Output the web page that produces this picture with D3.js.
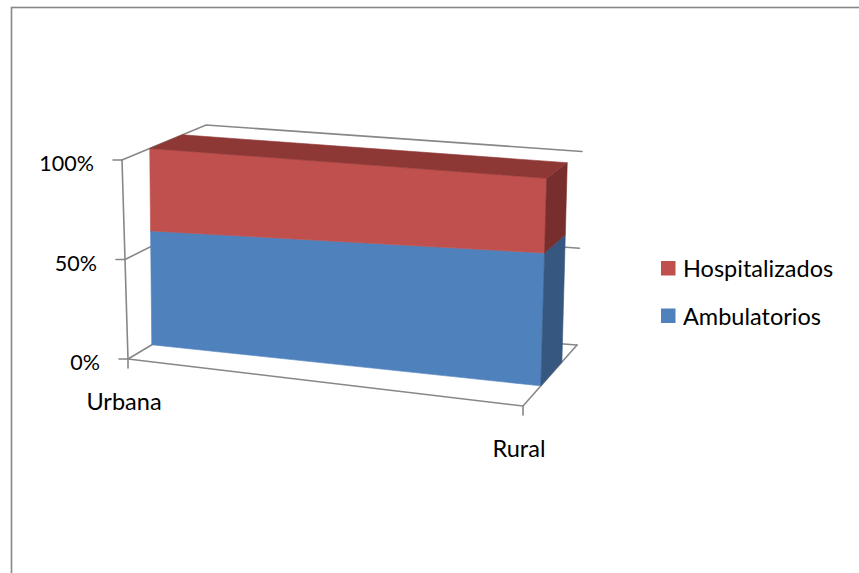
<!DOCTYPE html>
<html>
<head>
<meta charset="utf-8">
<script src="https://cdn.jsdelivr.net/npm/d3@7"></script>
<style>
  html, body { margin: 0; padding: 0; background: #fff; }
  svg { display: block; }
  text { font-family: Lato, "Noto Sans", sans-serif; fill: #000; }
</style>
</head>
<body>
<svg id="chart" width="859" height="573"></svg>
<script>
// Categories and stacked series (percent of each category)
const categories = ["Urbana", "Rural"];
const seriesNames = ["Ambulatorios", "Hospitalizados"];
const ambulatorios = [58, 64];
const hospitalizados = [42, 36];
const valueTicks = [0, 50, 100];
const tickLabels = ["0%", "50%", "100%"];

const colors = {
  Ambulatorios:   { front: "#4F81BD", side: "#36577F", top: "#3E6797" },
  Hospitalizados: { front: "#C0504D", side: "#772E2C", top: "#8E3836" }
};
const gridColor = "#878787";
const labelSize = 23.5;
const tickSize = 21.5;

const svg = d3.select("#chart");

// Outer chart frame
svg.append("rect")
  .attr("x", 11.5).attr("y", 7.5)
  .attr("width", 900).attr("height", 700)
  .attr("fill", "none").attr("stroke", gridColor).attr("stroke-width", 1.6);

// Scales: category position across the floor, stacked value up the walls
const xScale = d3.scalePoint().domain(categories).range([0, 1]);
const yScale = d3.scaleLinear().domain([0, 100]).range([0, 1]);

// Corners of the 3D plot box in screen space (front/back, left/right, bottom/top)
const box = {
  FLB: [128, 359], FLT: [122, 160], BLB: [200, 316], BLT: [206, 125],
  FRB: [523, 406], FRT: [529.3, 191.5], BRB: [577, 345], BRT: [582, 151.5]
};
// Trilinear projection: u across categories, v up the value axis, w into depth
function P(u, v, w) {
  const lerp = (a, b, t) => [a[0] + (b[0] - a[0]) * t, a[1] + (b[1] - a[1]) * t];
  const fl = lerp(box.FLB, box.FLT, v), fr = lerp(box.FRB, box.FRT, v);
  const bl = lerp(box.BLB, box.BLT, v), br = lerp(box.BRB, box.BRT, v);
  const f = lerp(fl, fr, u), b = lerp(bl, br, u);
  return lerp(f, b, w);
}
const depthFront = 0.33, depthBack = 0.72;

const line = (pts) => "M" + pts.map(p => p.join(",")).join("L");
const poly = (pts) => line(pts) + "Z";

const grid = svg.append("g")
  .attr("fill", "none").attr("stroke", gridColor)
  .attr("stroke-width", 1.6).attr("stroke-linecap", "round");

// Side wall and back wall gridlines
valueTicks.forEach(t => {
  const v = yScale(t);
  grid.append("path").attr("d", line([P(0, v, 0), P(0, v, 1), P(1, v, 1)]));
});
// Floor front and right edges
grid.append("path").attr("d", line([P(0, 0, 0), P(1, 0, 0), P(1, 0, 1)]));

// Stacked series bounds
const stackData = categories.map((c, i) => ({ cat: c, Ambulatorios: ambulatorios[i], Hospitalizados: hospitalizados[i] }));
const stacked = d3.stack().keys(seriesNames)(stackData);

const areaG = svg.append("g");
stacked.forEach((layer, li) => {
  const key = layer.key;
  const u0 = xScale(categories[0]), u1 = xScale(categories[1]);
  const lo0 = yScale(layer[0][0]), hi0 = yScale(layer[0][1]);
  const lo1 = yScale(layer[1][0]), hi1 = yScale(layer[1][1]);
  // Front face
  areaG.append("path")
    .attr("d", poly([P(u0, lo0, depthFront), P(u1, lo1, depthFront), P(u1, hi1, depthFront), P(u0, hi0, depthFront)]))
    .attr("fill", colors[key].front).attr("stroke", colors[key].front).attr("stroke-width", 0.6);
  // Right side face
  areaG.append("path")
    .attr("d", poly([P(u1, lo1, depthFront), P(u1, lo1, depthBack), P(u1, hi1, depthBack), P(u1, hi1, depthFront)]))
    .attr("fill", colors[key].side).attr("stroke", colors[key].side).attr("stroke-width", 0.6);
  // Top face for the uppermost layer
  if (li === stacked.length - 1) {
    areaG.append("path")
      .attr("d", poly([P(u0, hi0, depthFront), P(u1, hi1, depthFront), P(u1, hi1, depthBack), P(u0, hi0, depthBack)]))
      .attr("fill", colors[key].top).attr("stroke", colors[key].top).attr("stroke-width", 0.6);
  }
});

// Value axis at the front-left edge with ticks and labels
const axisG = svg.append("g")
  .attr("fill", "none").attr("stroke", gridColor)
  .attr("stroke-width", 1.6).attr("stroke-linecap", "round");
axisG.append("path").attr("d", line([P(0, 0, 0), P(0, 1, 0)]));
valueTicks.forEach((t, i) => {
  const p = P(0, yScale(t), 0);
  axisG.append("path").attr("d", line([[p[0] - 9, p[1]], p]));
  svg.append("text")
    .attr("x", p[0] - 28).attr("y", p[1] + 3)
    .attr("text-anchor", "end").attr("dominant-baseline", "central")
    .attr("font-size", tickSize)
    .text(tickLabels[i]);
});

// Category ticks and labels below the floor front edge
categories.forEach(c => {
  const p = P(xScale(c), 0, 0);
  axisG.append("path").attr("d", line([p, [p[0], p[1] + 9]]));
  svg.append("text")
    .attr("x", p[0] - 4).attr("y", p[1] + 42)
    .attr("text-anchor", "middle").attr("dominant-baseline", "central")
    .attr("font-size", labelSize)
    .text(c);
});

// Legend (top series listed first)
const legendItems = seriesNames.slice().reverse();
const legend = svg.append("g").attr("transform", "translate(661,261)");
legendItems.forEach((name, i) => {
  const g = legend.append("g").attr("transform", `translate(0,${i * 47.5})`);
  g.append("rect").attr("width", 14.5).attr("height", 14.5).attr("fill", colors[name].front);
  g.append("text").attr("x", 22).attr("y", 7)
    .attr("dominant-baseline", "central").attr("font-size", labelSize)
    .text(name);
});
</script>
</body>
</html>
